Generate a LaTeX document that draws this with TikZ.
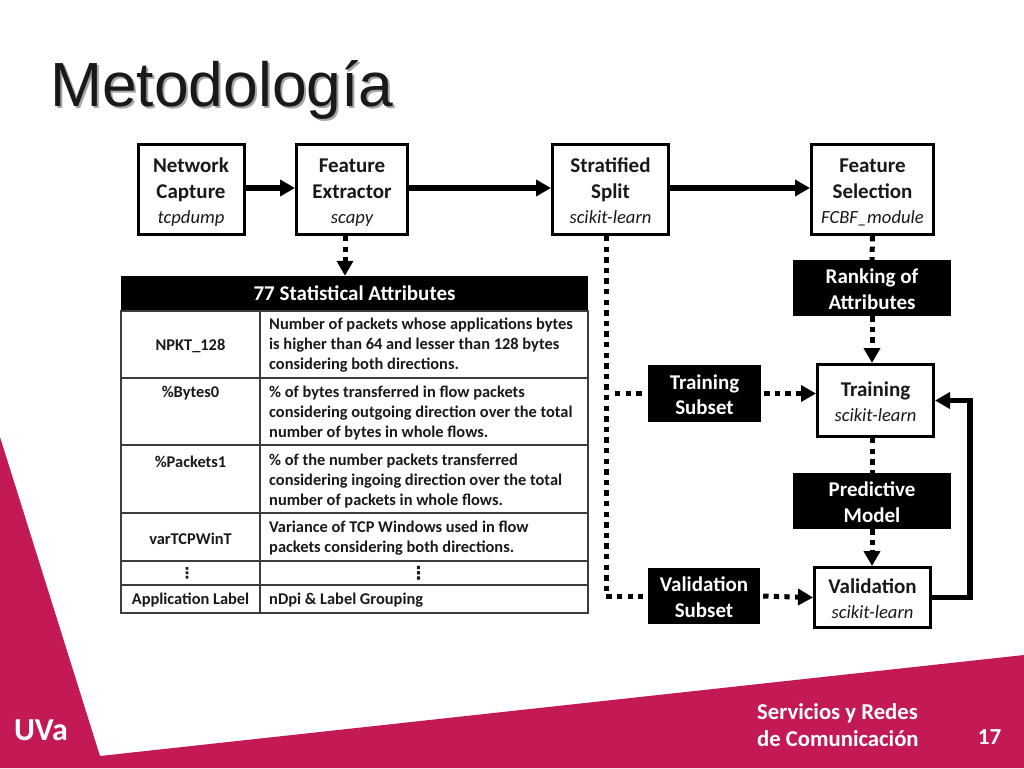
\documentclass[tikz,border=0pt]{standalone}
\usepackage{fontspec}
\setmainfont{Carlito}
\newfontfamily\titlefont{Liberation Sans}
\newfontfamily\dotsfont{DejaVu Sans}
\usetikzlibrary{arrows.meta}
\definecolor{uvared}{HTML}{C31A56}
\definecolor{rulegray}{HTML}{3C3C3C}
\newcommand{\boxfont}{\fontsize{21}{25.5}\selectfont\bfseries}
\newcommand{\toolfont}[1]{{\fontsize{18.6}{25}\selectfont\mdseries\itshape #1}}
\newcommand{\cellfont}{\fontsize{16.4}{20}\selectfont\bfseries}
\newcommand{\boxtop}{\rule{0pt}{22pt}}
\tikzset{
  evenlines/.style={execute at end node={\rule[-5pt]{0pt}{5pt}}},
  toolbox/.style={draw=black, line width=3pt, fill=white, align=center, inner sep=0pt, font=\boxfont, text=black!90, evenlines},
  darkbox/.style={fill=black, align=center, inner sep=0pt, font=\boxfont, text=white, evenlines},
  flowline/.style={line width=5.5pt, draw=black, -{Triangle[length=15pt,width=16pt]}},
  feedline/.style={flowline, line join=miter},
  dotline/.style={line width=5pt, draw=black, dash pattern=on 5.3pt off 5.3pt},
  dotarrow/.style={dotline, -{Triangle[length=15pt,width=16pt]}},
  rowlabel/.style={anchor=center, align=center, inner sep=0pt, font=\cellfont, text=black!90},
  rowtext/.style={anchor=west, align=left, inner sep=0pt, font=\cellfont, text=black!90},
  rulebar/.style={line width=1.4pt, draw=rulegray},
}
\begin{document}
\begin{tikzpicture}[x=1pt, y=-1pt]
  \useasboundingbox (0,0) rectangle (1024,768);

  % Slide background
  \fill[uvared] (0,437) -- (100,756) -- (1024,655) -- (1024,768) -- (0,768) -- cycle;
  \node (titleshadow) [anchor=base west, inner sep=0pt, font=\titlefont\fontsize{62.4}{63}\selectfont, text=black!35] at (52,108) {Metodolog\'ia};
  \node (title) [anchor=base west, inner sep=0pt, font=\titlefont\fontsize{62.4}{63}\selectfont, text=black!90] at (50,106) {Metodolog\'ia};
  \node (uva) [inner sep=0pt, font=\fontsize{32}{33}\selectfont\bfseries, text=white] at (41,730) {UVa};
  \node (course) [anchor=west, align=left, inner sep=0pt, font=\fontsize{22.7}{27.5}\selectfont\bfseries, text=white] at (757,725) {Servicios y Redes\\de Comunicaci\'on};
  \node (page) [inner sep=0pt, font=\fontsize{23}{24}\selectfont\bfseries, text=white] at (989.5,737) {17};

  % Top row
  \node (capture) [toolbox, minimum width=106pt, minimum height=90pt] at (191,189.5) {\boxtop Network\\Capture\\\toolfont{tcpdump}};
  \node (extractor) [toolbox, minimum width=111pt, minimum height=90pt] at (352,189.5) {\boxtop Feature\\Extractor\\\toolfont{scapy}};
  \node (split) [toolbox, minimum width=116pt, minimum height=90pt] at (610.5,189.5) {\boxtop Stratified\\Split\\\toolfont{scikit-learn}};
  \node (selection) [toolbox, minimum width=122pt, minimum height=90pt] at (872.5,189.5) {\boxtop Feature\\Selection\\\toolfont{FCBF\_module}};

  % Right column
  \node (ranking) [darkbox, minimum width=158pt, minimum height=56pt] at (872,288) {\boxtop Ranking of\\Attributes};
  \node (training) [toolbox, minimum width=116pt, minimum height=72pt] at (875.5,400.5) {\boxtop Training\\\toolfont{scikit-learn}};
  \node (model) [darkbox, minimum width=158pt, minimum height=56pt] at (872,501) {\boxtop Predictive\\Model};
  \node (validation) [toolbox, minimum width=116pt, minimum height=60pt] at (872.5,597.5) {\boxtop Validation\\\toolfont{scikit-learn}};
  \node (trainsub) [darkbox, minimum width=113pt, minimum height=57pt] at (704.5,393.5) {\boxtop Training\\Subset};
  \node (valsub) [darkbox, minimum width=112pt, minimum height=56pt] at (704,596) {\boxtop Validation\\Subset};

  % Table
  \node (tablehead) [fill=black, minimum width=467pt, minimum height=35pt, inner sep=0pt, font=\fontsize{21}{22}\selectfont\bfseries, text=white] at (354.5,293.5) {77 Statistical Attributes};
  \draw[rulebar] (121,311) rectangle (588,613);
  \draw[rulebar] (260,311) -- (260,613);
  \foreach \y in {378,445,513,561,585}
    \draw[rulebar] (121,\y) -- (588,\y);

  \node (npkt) [rowlabel] at (190.5,345.5) {NPKT\_128};
  \node (bytes) [rowlabel] at (190.5,393.5) {\%Bytes0};
  \node (packets) [rowlabel] at (190.5,461.5) {\%Packets1};
  \node (wint) [rowlabel] at (190.5,539) {varTCPWinT};
  \node (moreleft) [rowlabel, font=\dotsfont\fontsize{15}{15}\selectfont\bfseries] at (187,573) {⋮};
  \node (applabel) [rowlabel] at (190.5,600) {Application Label};

  \node (npkttext) [rowtext] at (269,345.5) {Number of packets whose applications bytes\\is higher than 64 and lesser than 128 bytes\\considering both directions.};
  \node (bytestext) [rowtext] at (269,413.5) {\% of bytes transferred in flow packets\\considering outgoing direction over the total\\number of bytes in whole flows.};
  \node (packetstext) [rowtext] at (269,481.5) {\% of the number packets transferred\\considering ingoing direction over the total\\number of packets in whole flows.};
  \node (winttext) [rowtext] at (269,538.5) {Variance of TCP Windows used in flow\\packets considering both directions.};
  \node (moreright) [rowlabel, font=\dotsfont\fontsize{18}{18}\selectfont\bfseries] at (418.5,573) {⋮};
  \node (applabeltext) [rowtext] at (269,600) {nDpi \& Label Grouping};

  % Turning points
  \coordinate (splitturn) at (606,596);
  \coordinate (trainbranch) at (615,393.5);
  \coordinate (extractdown) at (345,236);
  \coordinate (backturn) at (970,400.5);

  % Solid arrows
  \draw[flowline] ([yshift=1.5pt]capture.east) -- ([yshift=1.5pt]extractor.west);
  \draw[flowline] ([yshift=1.5pt]extractor.east) -- ([yshift=1.5pt]split.west);
  \draw[flowline] ([yshift=1.5pt]split.east) -- ([yshift=1.5pt]selection.west);
  \draw[feedline] (validation.east) -- (backturn |- validation.east) -- (backturn) -- (training.east);

  % Dotted arrows
  \draw[dotarrow] (extractdown) -- (extractdown |- tablehead.north);
  \draw[dotline] (selection.south) -- (ranking.north);
  \draw[dotarrow] (ranking.south) -- (ranking.south |- training.north);
  \draw[dotline] (ranking.south |- training.south) -- (model.north);
  \draw[dotarrow] (model.south) -- (model.south |- validation.north);
  \draw[dotline, shorten >=5pt] (splitturn |- split.south) -- (splitturn) -- (valsub.west);
  \draw[dotline, shorten >=5pt] (trainbranch) -- (trainsub.west);
  \draw[dotarrow, shorten <=3pt] (trainsub.east) -- (trainsub.east -| training.west);
  \draw[dotarrow, shorten <=3pt] (valsub.east) -- (validation.west);
\end{tikzpicture}
\end{document}
